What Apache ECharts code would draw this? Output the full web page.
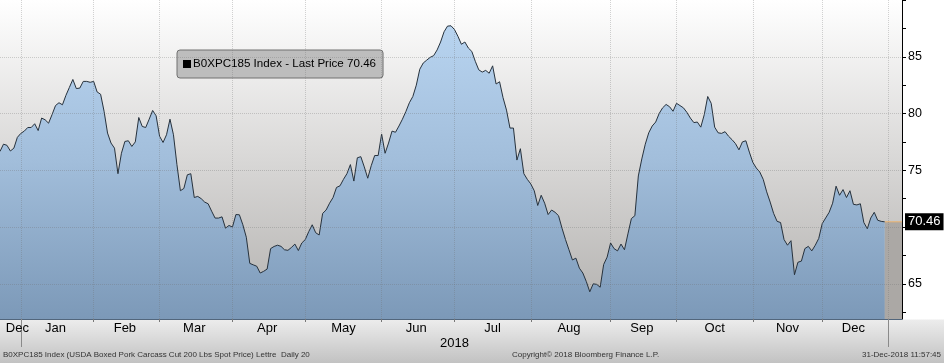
<!DOCTYPE html>
<html>
<head>
<meta charset="utf-8">
<script src="https://cdn.jsdelivr.net/npm/echarts@6/dist/echarts.min.js"></script>
<style>
html,body{margin:0;padding:0;}
#c{width:944px;height:363px;background:linear-gradient(to bottom,#ffffff 0px,#ffffff 319px,#ececec 320px,#c2c2c2 363px);}
</style>
</head>
<body>
<div id="c"></div>
<script>
// Business-day closes, one array per month
const dec17 = [76.66, 77.3, 77.2, 76.7, 76.95, 77.9];
const jan = [78.25, 78.45, 78.77, 78.77, 79.1, 78.5, 79.6, 79.45, 79.15, 79.9, 80.7, 80.95, 80.77, 81.6, 82.3, 83.0, 82.2, 82.24, 82.83, 82.83, 82.75];
const feb = [82.83, 81.9, 81.7, 80.2, 78.28, 77.4, 76.95, 74.7, 76.5, 77.54, 77.6, 77.1, 77.5, 79.65, 78.86, 78.77, 79.5, 80.27, 79.8];
const mar = [78.0, 77.45, 78.13, 79.5, 78.13, 75.5, 73.2, 73.4, 74.6, 74.7, 72.6, 72.7, 72.5, 72.2, 72.05, 71.4, 70.79, 70.79, 70.9, 69.9, 70.14];
const apr = [70.0, 71.1, 71.08, 70.2, 69.1, 66.8, 66.67, 66.55, 65.95, 66.1, 66.3, 68.1, 68.29, 68.4, 68.3, 68.0, 67.95, 68.2, 68.5, 67.93, 68.6];
const may = [68.9, 69.6, 70.2, 69.5, 69.3, 71.2, 71.5, 72.1, 72.6, 73.49, 73.63, 74.2, 74.7, 75.5, 74.05, 76.1, 76.2, 75.3, 74.3, 75.4, 76.3, 76.3];
const jun = [78.2, 76.5, 77.4, 78.45, 78.35, 78.9, 79.5, 80.18, 80.95, 81.5, 82.5, 83.9, 84.45, 84.7, 84.95, 85.1, 85.6, 86.3, 87.2, 87.7, 87.73];
const jul = [87.4, 86.8, 86.1, 86.3, 85.77, 85.47, 84.6, 83.85, 83.65, 83.8, 83.55, 84.2, 82.6, 82.8, 81.4, 80.3, 78.72, 78.72, 75.9, 76.9, 74.7, 74.2];
const aug = [73.8, 73.2, 71.9, 72.8, 72.1, 71.1, 71.5, 71.3, 71.0, 69.9, 68.9, 68.0, 67.1, 67.26, 66.38, 65.95, 65.2, 64.3, 65.0, 64.95, 64.7, 66.7, 67.35];
const sep = [68.6, 68.1, 67.9, 68.5, 68.0, 69.4, 70.75, 71.0, 74.5, 76.0, 77.3, 78.3, 78.9, 79.25, 80.0, 80.5, 80.8, 80.6, 80.2];
const oct = [80.9, 80.7, 80.5, 80.1, 79.6, 79.2, 79.25, 78.8, 79.9, 81.5, 80.9, 78.8, 78.3, 78.25, 78.4, 78.0, 77.7, 77.35, 76.8, 77.5, 77.6, 76.6];
const nov = [75.7, 75.2, 74.85, 74.2, 73.1, 72.2, 71.2, 70.5, 70.4, 68.9, 68.4, 68.8, 65.8, 66.9, 67.0, 68.1, 68.3, 67.9, 68.4, 69.0];
const dec = [70.3, 70.8, 71.3, 72.1, 73.6, 72.8, 73.3, 72.6, 73.2, 72.0, 71.95, 72.05, 70.4, 69.85, 70.8, 71.3, 70.6, 70.5, 70.46];

const monthNames = ['Dec','Jan','Feb','Mar','Apr','May','Jun','Jul','Aug','Sep','Oct','Nov','Dec','Jan'];
const monthYears = [2017,2018,2018,2018,2018,2018,2018,2018,2018,2018,2018,2018,2018,2019];
const monthValues = [dec17, jan, feb, mar, apr, may, jun, jul, aug, sep, oct, nov, dec, null];
const padCount = 5;            // empty business days of Jan 2019 shown at the right edge
const lastPrice = 70.46;
const yearLabel = '2018';
const seriesName = 'B0XPC185 Index - Last Price 70.46';
const yTickValues = [62.5, 65, 67.5, 70, 72.5, 75, 77.5, 80, 82.5, 85, 87.5, 90];
const yLabelValues = [65, 70, 75, 80, 85];
const footerLeft = 'B0XPC185 Index (USDA Boxed Pork Carcass Cut 200 Lbs Spot Price) Lettre  Daily 20';
const footerMid = 'Copyright\u00A9 2018 Bloomberg Finance L.P.';
const footerRight = '31-Dec-2018 11:57:45';

// build categories
const categories = [], values = [], monthStart = [], labelAt = {};
monthValues.forEach((arr, m) => {
  const n = arr ? arr.length : padCount;
  const s = categories.length;
  monthStart.push(s);
  if (arr) labelAt[m === 0 ? s + n - 1 : s + Math.floor(n / 2)] = monthNames[m];
  for (let k = 0; k < n; k++) {
    categories.push(monthNames[m] + ' ' + monthYears[m] + ' d' + (k + 1));
    values.push(arr ? arr[k] : null);
  }
});
const tickSet = new Set(monthStart.slice(1));
const yearTickSet = new Set(monthStart.filter((s, m) => monthNames[m] === 'Jan'));
const firstIdx2018 = monthStart[1];
const lastDataIdx = categories.length - padCount - 1;
const yearLabelIdx = Math.round((firstIdx2018 + lastDataIdx) / 2);
const extValues = values.map((v, i) => (i >= lastDataIdx ? lastPrice : null));

const FONT = 'Liberation Sans';
const chart = echarts.init(document.getElementById('c'), null, {renderer: 'canvas'});
chart.setOption({
  animation: false,
  backgroundColor: 'transparent',
  grid: {
    left: 0, top: 0, width: 902, height: 319, show: true, borderWidth: 0,
    backgroundColor: {type: 'linear', x: 0, y: 0, x2: 0, y2: 1,
      colorStops: [{offset: 0, color: '#ffffff'}, {offset: 1, color: '#b2b0ae'}]}
  },
  legend: {
    left: 177, top: 50, padding: [8, 7, 8, 6],
    backgroundColor: '#bdbdbd', borderColor: '#707070', borderWidth: 1, borderRadius: 3,
    itemWidth: 8, itemHeight: 8, selectedMode: false,
    data: [{name: seriesName, icon: 'rect', itemStyle: {color: '#000'}}],
    textStyle: {fontFamily: FONT, fontSize: 11.6, color: '#000', padding: [1, 0, 0, -3]}
  },
  xAxis: [{
    type: 'category', data: categories, boundaryGap: false,
    axisLine: {show: true, lineStyle: {color: '#52667c', width: 1}},
    axisTick: {show: true, interval: (i) => tickSet.has(i), length: 3, lineStyle: {color: '#777'}},
    axisLabel: {interval: (i) => labelAt[i] !== undefined, formatter: (v, i) => labelAt[i] || '',
      color: '#000', fontSize: 13, margin: 3, fontFamily: FONT},
    splitLine: {show: false}
  }, {
    type: 'category', data: categories, boundaryGap: false, position: 'bottom',
    axisLine: {show: false},
    axisTick: {show: true, interval: (i) => yearTickSet.has(i), length: 28, lineStyle: {color: '#8a8a8a'}},
    axisLabel: {interval: (i) => i === yearLabelIdx, formatter: () => yearLabel,
      color: '#000', fontSize: 13, margin: 18, fontFamily: FONT},
    splitLine: {show: false}
  }],
  yAxis: {
    type: 'value', position: 'right', min: 61.9, max: 90,
    axisLine: {show: true, lineStyle: {color: '#000'}},
    axisTick: {show: true, length: 4, customValues: yTickValues, lineStyle: {color: '#000'}},
    axisLabel: {customValues: yLabelValues, color: '#000', fontSize: 12.5, margin: 6, fontFamily: FONT},
    splitLine: {show: false}
  },
  series: [{
    name: seriesName, type: 'line', data: values, xAxisIndex: 0,
    showSymbol: false, symbol: 'none', z: 3,
    lineStyle: {color: '#26313c', width: 1},
    itemStyle: {color: '#000'},
    areaStyle: {origin: 'start', opacity: 1, color: {type: 'linear', x: 0, y: 0, x2: 0, y2: 319, global: true,
      colorStops: [{offset: 0, color: '#bcd8f4'}, {offset: 0.5, color: '#a2bedb'}, {offset: 1, color: '#7c99b8'}]}},
    markLine: {
      silent: true, symbol: ['none', 'none'], label: {show: false}, animation: false,
      lineStyle: {color: 'rgba(110,110,110,0.3)', type: 'dotted', width: 1},
      data: yLabelValues.map(v => ({yAxis: v})).concat(monthStart.slice(1).map(i => ({xAxis: i})))
    }
  }, {
    name: 'ext', type: 'line', data: extValues, xAxisIndex: 0,
    showSymbol: false, symbol: 'none', z: 2, silent: true,
    lineStyle: {color: '#eeb46c', width: 1},
    areaStyle: {origin: 'start', color: '#aba8a5', opacity: 1},
    endLabel: {show: true, formatter: () => lastPrice.toFixed(2), color: '#fff', backgroundColor: '#000',
      padding: [2, 3, 2, 3], fontSize: 13, distance: 3, fontFamily: FONT}
  }],
  graphic: [
    {type: 'text', left: 3, top: 351, silent: true, style: {text: footerLeft, font: '8px "Liberation Sans"', fill: '#333'}},
    {type: 'text', left: 512, top: 351, silent: true, style: {text: footerMid, font: '8px "Liberation Sans"', fill: '#333'}},
    {type: 'text', right: 3, top: 351, silent: true, style: {text: footerRight, font: '8px "Liberation Sans"', fill: '#333'}}
  ]
});
</script>
</body>
</html>
